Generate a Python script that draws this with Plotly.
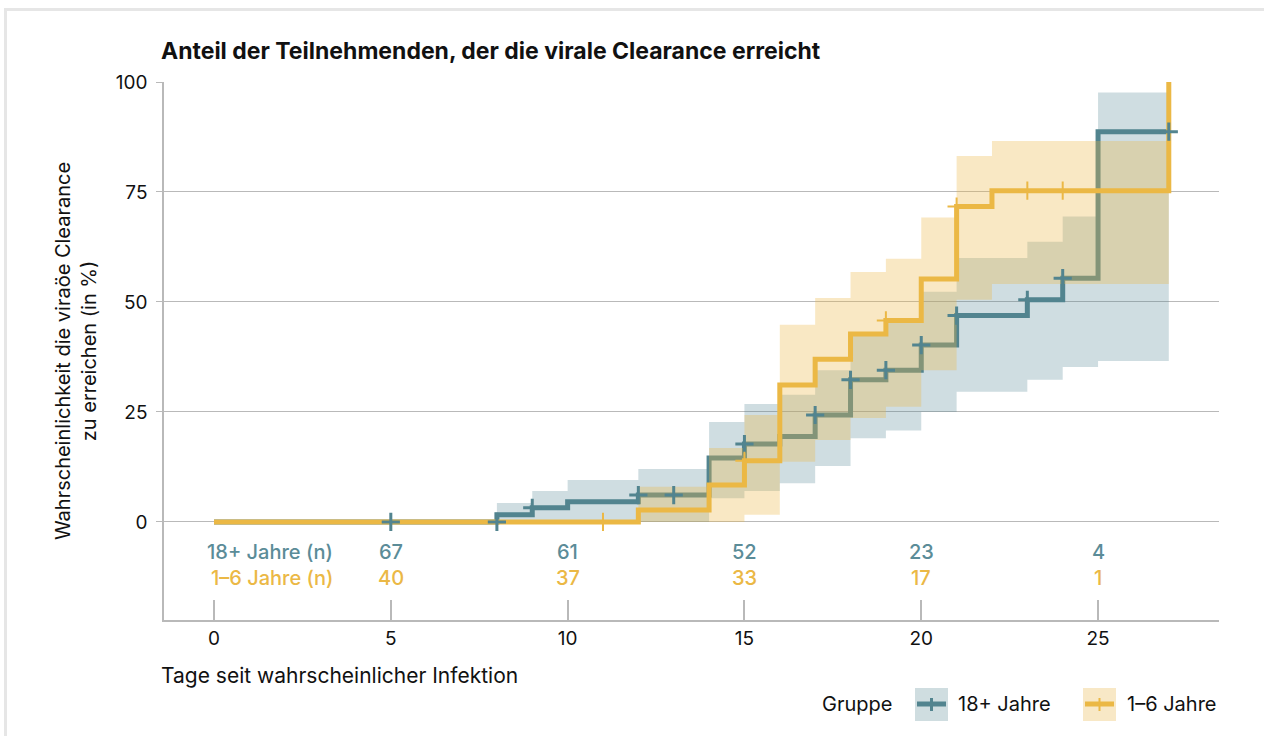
import plotly.graph_objects as go

# ---------------- data ----------------
days_ticks = [0, 5, 10, 15, 20, 25]
y_ticks = [0, 25, 50, 75, 100]

# Kaplan-Meier step curves (cumulative % reaching clearance)
adult_t = [0, 8, 9, 10, 12, 14, 15, 16, 17, 18, 19, 20, 21, 23, 24, 25, 27]
adult_v = [0, 1.6, 3.2, 4.6, 6.1, 14.5, 17.7, 19.4, 24.3, 32.3, 34.5, 40.2, 46.9, 50.5, 55.4, 88.7, 88.7]

child_t = [0, 12, 14, 15, 16, 17, 18, 19, 20, 21, 22, 27]
child_v = [0, 2.7, 8.4, 13.9, 31.1, 37.0, 42.7, 45.8, 55.2, 71.7, 75.3, 100]

# confidence bands
adult_ci_t = [8, 9, 10, 12, 14, 15, 16, 17, 18, 19, 20, 21, 23, 24, 25, 27]
adult_ci_hi = [4.3, 7.0, 9.5, 12.0, 22.7, 26.8, 28.9, 34.5, 43.0, 46.0, 52.3, 60.0, 63.7, 69.4, 97.6, 97.6]
adult_ci_lo = [0, 0, 0, 0, 5.4, 7.0, 8.8, 12.7, 19.0, 20.8, 25.0, 29.6, 32.3, 35.2, 36.6, 36.6]

child_ci_t = [12, 14, 15, 16, 17, 18, 19, 20, 21, 22, 27]
child_ci_hi = [8.0, 16.8, 24.3, 44.8, 50.9, 56.8, 59.8, 69.2, 83.2, 86.6, 86.6]
child_ci_lo = [0, 0, 1.6, 13.7, 18.6, 23.6, 26.2, 34.5, 50.5, 54.1, 54.1]

# censoring marks
adult_cens_t = [5, 8, 9, 12, 13, 15, 17, 18, 19, 20, 21, 23, 24, 27]
adult_cens_v = [0, 0, 3.2, 6.1, 6.1, 17.7, 24.3, 32.3, 34.5, 40.2, 46.9, 50.5, 55.4, 88.7]
child_cens_t = [11, 15, 19, 21, 23, 24]
child_cens_v = [0, 13.9, 45.8, 71.7, 75.3, 75.3]

# numbers at risk
risk_days = [5, 10, 15, 20, 25]
adult_risk = [67, 61, 52, 23, 4]
child_risk = [40, 37, 33, 17, 1]

group_names = ["18+ Jahre", "1–6 Jahre"]

# ---------------- style ----------------
BLUE = "#52848f"
BLUE_TXT = "#5b8c98"
YEL = "#ebb845"
BLUE_BAND = "rgba(78,131,144,0.27)"
YEL_BAND = "rgba(235,185,70,0.32)"
FONT = "Inter"
GRID = "#b9b9b9"
TXT = "#111111"

W, H = 1264, 736
L, R, T, B = 164, 45, 82, 116
PW, PH = W - L - R, H - T - B


def px(xp):
    return (xp - L) / PW


def py(yp):
    return (H - B - yp) / PH


fig = go.Figure()

# adult band + line
fig.add_trace(go.Scatter(x=adult_ci_t, y=adult_ci_hi, mode="lines", line=dict(width=0, shape="hv"),
                         hoverinfo="skip", showlegend=False))
fig.add_trace(go.Scatter(x=adult_ci_t, y=adult_ci_lo, mode="lines", line=dict(width=0, shape="hv"),
                         fill="tonexty", fillcolor=BLUE_BAND, hoverinfo="skip", showlegend=False))
fig.add_trace(go.Scatter(x=adult_t, y=adult_v, mode="lines", line=dict(color=BLUE, width=5, shape="hv"),
                         name=group_names[0], showlegend=False))

# child band + line
fig.add_trace(go.Scatter(x=child_ci_t, y=child_ci_hi, mode="lines", line=dict(width=0, shape="hv"),
                         hoverinfo="skip", showlegend=False))
fig.add_trace(go.Scatter(x=child_ci_t, y=child_ci_lo, mode="lines", line=dict(width=0, shape="hv"),
                         fill="tonexty", fillcolor=YEL_BAND, hoverinfo="skip", showlegend=False))
fig.add_trace(go.Scatter(x=child_t, y=child_v, mode="lines", line=dict(color=YEL, width=5, shape="hv"),
                         name=group_names[1], showlegend=False))

# censor marks
fig.add_trace(go.Scatter(x=adult_cens_t, y=adult_cens_v, mode="markers",
                         marker=dict(symbol="cross-thin", size=13, line=dict(color=BLUE, width=3)),
                         showlegend=False))
fig.add_trace(go.Scatter(x=child_cens_t, y=child_cens_v, mode="markers",
                         marker=dict(symbol="cross-thin", size=13, line=dict(color=YEL, width=2)),
                         showlegend=False))

annotations = []
# title
annotations.append(dict(text="<b>Anteil der Teilnehmenden, der die virale Clearance erreicht</b>",
                        xref="paper", yref="paper", x=px(159), y=py(51), xanchor="left", yanchor="middle",
                        showarrow=False, font=dict(family=FONT, size=23, color=TXT)))
# x axis title
annotations.append(dict(text="Tage seit wahrscheinlicher Infektion",
                        xref="paper", yref="paper", x=px(159), y=py(675), xanchor="left", yanchor="middle",
                        showarrow=False, font=dict(family=FONT, size=21, color=TXT)))
# numbers at risk
RISK_FONT = dict(family=FONT, size=20, weight=500)
annotations.append(dict(text="18+ Jahre (n)", xref="paper", yref="paper", x=px(335), y=py(552),
                        xanchor="right", yanchor="middle", showarrow=False,
                        font=dict(RISK_FONT, color=BLUE_TXT)))
annotations.append(dict(text="1–6 Jahre (n)", xref="paper", yref="paper", x=px(335), y=py(578),
                        xanchor="right", yanchor="middle", showarrow=False,
                        font=dict(RISK_FONT, color=YEL)))
for d, a, c in zip(risk_days, adult_risk, child_risk):
    annotations.append(dict(text=str(a), xref="x", yref="paper", x=d, y=py(552), xanchor="center",
                            yanchor="middle", showarrow=False, font=dict(RISK_FONT, color=BLUE_TXT)))
    annotations.append(dict(text=str(c), xref="x", yref="paper", x=d, y=py(578), xanchor="center",
                            yanchor="middle", showarrow=False, font=dict(RISK_FONT, color=YEL)))

# manual legend
LEG_FONT = dict(family=FONT, size=20, color=TXT)
annotations.append(dict(text="Gruppe", xref="paper", yref="paper", x=px(820), y=py(704), xanchor="left",
                        yanchor="middle", showarrow=False, font=LEG_FONT))
annotations.append(dict(text=group_names[0], xref="paper", yref="paper", x=px(956), y=py(704), xanchor="left",
                        yanchor="middle", showarrow=False, font=LEG_FONT))
annotations.append(dict(text=group_names[1], xref="paper", yref="paper", x=px(1125), y=py(704), xanchor="left",
                        yanchor="middle", showarrow=False, font=LEG_FONT))

shapes = []
# outer card border
shapes.append(dict(type="rect", xref="paper", yref="paper", x0=px(5.5), x1=px(1300), y0=py(760), y1=py(9.5),
                   line=dict(color="#e6e6e6", width=3), fillcolor="rgba(0,0,0,0)", layer="below"))
for (bx, band, col, lw) in [(915, "#cfdde0", BLUE, 3), (1083, "#f8e8c6", YEL, 2)]:
    shapes.append(dict(type="rect", xref="paper", yref="paper", x0=px(bx), x1=px(bx + 33), y0=py(721), y1=py(688),
                       line=dict(width=0), fillcolor=band))
    shapes.append(dict(type="line", xref="paper", yref="paper", x0=px(bx + 2), x1=px(bx + 31), y0=py(704),
                       y1=py(704), line=dict(color=col, width=5)))
    shapes.append(dict(type="line", xref="paper", yref="paper", x0=px(bx + 16.5), x1=px(bx + 16.5), y0=py(698),
                       y1=py(711), line=dict(color=col, width=lw)))

fig.update_layout(
    width=W, height=H,
    margin=dict(l=L, r=R, t=T, b=B),
    paper_bgcolor="white", plot_bgcolor="white",
    font=dict(family=FONT, size=19, color=TXT),
    showlegend=False,
    annotations=annotations,
    shapes=shapes,
    xaxis=dict(range=[-1.414, 28.42], tickvals=days_ticks, ticks="inside", ticklen=20, tickcolor=GRID,
               tickwidth=1.5, showgrid=False, zeroline=False, showline=True, linecolor=GRID, linewidth=1.5,
               tickfont=dict(family=FONT, size=19, color=TXT)),
    yaxis=dict(range=[-22.3, 100], tickvals=y_ticks, ticks="outside", ticklen=6, tickcolor=GRID,
               showgrid=True, gridcolor=GRID, gridwidth=1, zeroline=False, showline=True, linecolor=GRID,
               linewidth=1.5, tickfont=dict(family=FONT, size=19, color=TXT), ticklabelstandoff=5,
               title=dict(text="Wahrscheinlichkeit die viraöe Clearance<br>zu erreichen (in %)",
                          font=dict(family=FONT, size=20, color=TXT), standoff=14)),
)

fig.write_html("out.html", config={"displayModeBar": False},
               post_script="document.body.style.margin='0';document.body.style.overflow='hidden';")
